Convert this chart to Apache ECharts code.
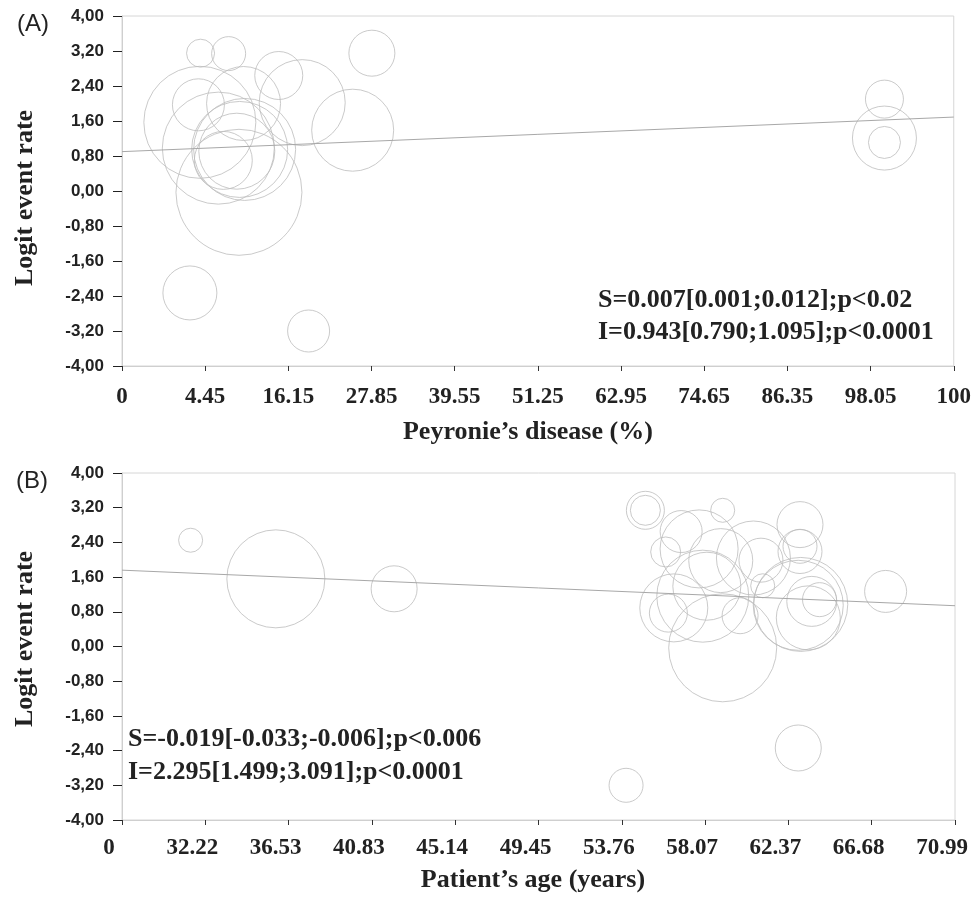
<!DOCTYPE html>
<html>
<head>
<meta charset="utf-8">
<script src="https://cdn.jsdelivr.net/npm/echarts@6/dist/echarts.min.js"></script>
<style>
  html, body { margin: 0; padding: 0; background: #fff; }
  #chart { width: 974px; height: 911px; }
</style>
</head>
<body>
<div id="chart"></div>
<script>
// tick labels as printed under each x axis
var ticksA = ['0', '4.45', '16.15', '27.85', '39.55', '51.25', '62.95', '74.65', '86.35', '98.05', '100'];
var ticksB = ['0', '32.22', '36.53', '40.83', '45.14', '49.45', '53.76', '58.07', '62.37', '66.68', '70.99'];

// (A) studies: [Peyronie's disease %, logit event rate, weight]
var studiesA = [
  [3.8, 3.15, 14], [7.75, 3.14, 17], [3.7, 1.57, 56], [3.5, 1.97, 26],
  [9.85, 2.0, 37], [14.8, 2.64, 24], [18.1, 2.02, 43], [27.9, 3.15, 23],
  [25.2, 1.39, 41], [6.3, 0.98, 56], [10.0, 0.95, 51], [8.9, 0.91, 38],
  [7.0, 0.70, 29], [9.3, 0.95, 48], [9.2, -0.03, 63], [2.3, -2.33, 27],
  [19.0, -3.2, 21], [100, 2.1, 19], [100, 1.21, 32], [100, 1.11, 16]
];
// regression line ends
var lineA = [[-7.25, 0.90], [109.75, 1.69]];

// (B) studies: [patient's age, logit event rate, weight]
var studiesB = [
  [31.46, 2.45, 12], [35.87, 1.56, 49], [41.99, 1.33, 23], [54.99, 3.14, 19],
  [54.99, 3.14, 15], [58.99, 3.14, 12], [62.99, 2.81, 23], [56.84, 2.65, 21],
  [56.04, 2.18, 15], [62.99, 2.31, 17], [62.99, 2.19, 22], [57.77, 2.25, 39],
  [58.89, 1.98, 32], [60.58, 2.04, 37], [60.97, 1.99, 22], [61.06, 1.40, 12],
  [56.46, 0.89, 34], [56.18, 0.77, 19], [57.96, 1.16, 46], [58.17, 1.39, 34],
  [59.89, 0.71, 18], [58.99, -0.03, 54], [63.03, 0.97, 47], [62.9, 0.95, 45],
  [63.6, 1.04, 25], [64.0, 1.08, 17], [63.42, 0.66, 32], [67.42, 1.27, 21],
  [62.9, -2.34, 23], [53.99, -3.2, 17]
];
var lineB = [[27.91, 1.76], [71.01, 0.94]];

var statsA = 'S=0.007[0.001;0.012];p<0.02\nI=0.943[0.790;1.095];p<0.0001';
var statsB = 'S=-0.019[-0.033;-0.006];p<0.006\nI=2.295[1.499;3.091];p<0.0001';

// the printed axes are evenly spaced ticks: map real values onto tick steps
function posA(v) { return (v + 7.25) / 11.7; }
function posB(v) { return (v - 27.91) / 4.31; }
function toAxis(arr, f) {
  return arr.map(function (d) { return [f(d[0]), d[1]].concat(d.slice(2)); });
}

var serif = 'Liberation Serif';
var sans = 'Liberation Sans';

function xAxisOf(idx, ticks, name, gap, namePad, labelPad, labelMargin) {
  return {
    gridIndex: idx, type: 'value', min: 0, max: 10, interval: 1,
    name: name, nameLocation: 'middle', nameGap: gap,
    nameTextStyle: { fontFamily: serif, fontWeight: 'bold', fontSize: 26, color: '#222', padding: namePad },
    axisLine: { show: true, onZero: false, lineStyle: { color: '#cfcfcf', width: 1 } },
    axisTick: { show: true, length: 5, lineStyle: { color: '#333' } },
    splitLine: { show: false },
    axisLabel: {
      margin: labelMargin,
      formatter: function (v) { return '{t|' + ticks[Math.round(v)] + '}'; },
      rich: { t: { fontFamily: serif, fontWeight: 'bold', fontSize: 23, color: '#222', padding: labelPad } }
    }
  };
}
function yAxisOf(idx, namePad) {
  return {
    gridIndex: idx, type: 'value', min: -4, max: 4, interval: 0.8,
    name: 'Logit event rate', nameLocation: 'middle', nameGap: 84, nameRotate: 90,
    nameTextStyle: { fontFamily: serif, fontWeight: 'bold', fontSize: 26, color: '#222', padding: namePad },
    axisLine: { show: true, onZero: false, lineStyle: { color: '#cfcfcf', width: 1 } },
    axisTick: { show: true, length: 9, lineStyle: { color: '#222' } },
    splitLine: { show: false },
    axisLabel: {
      margin: 18, fontFamily: sans, fontWeight: 'bold', fontSize: 17, color: '#222',
      formatter: function (v) { return v.toFixed(2).replace('.', ','); }
    }
  };
}

var bubbleStyle = { color: 'rgba(0,0,0,0)', borderColor: '#bdbdbd', borderWidth: 1 };

var myChart = echarts.init(document.getElementById('chart'));
var option = {
  backgroundColor: '#fff',
  animation: false,
  grid: [
    { left: 122, top: 16, width: 837, height: 350, show: true, borderColor: '#d6d6d6', borderWidth: 1 },
    { left: 122, top: 473, width: 833, height: 347, show: true, borderColor: '#d6d6d6', borderWidth: 1 }
  ],
  xAxis: [
    xAxisOf(0, ticksA, 'Peyronie\u2019s disease (%)', 53, [0, 20, 0, 0], [0, 0, 0, 0], 20),
    xAxisOf(1, ticksB, 'Patient\u2019s age (years)', 47, [0, 11, 0, 0], [0, 26, 0, 0], 17)
  ],
  yAxis: [yAxisOf(0, [0, 14, 0, 0]), yAxisOf(1, [0, 0, 0, 15])],
  series: [
    {
      type: 'scatter', xAxisIndex: 0, yAxisIndex: 0,
      data: toAxis(studiesA, posA),
      symbolSize: function (d) { return d[2] * 2; },
      itemStyle: bubbleStyle, emphasis: { disabled: true }
    },
    {
      type: 'line', xAxisIndex: 0, yAxisIndex: 0, data: toAxis(lineA, posA),
      showSymbol: false, lineStyle: { color: '#a8a8a8', width: 1 }, z: 3
    },
    {
      type: 'scatter', xAxisIndex: 1, yAxisIndex: 1,
      data: toAxis(studiesB, posB),
      symbolSize: function (d) { return d[2] * 2; },
      itemStyle: bubbleStyle, emphasis: { disabled: true }
    },
    {
      type: 'line', xAxisIndex: 1, yAxisIndex: 1, data: toAxis(lineB, posB),
      showSymbol: false, lineStyle: { color: '#a8a8a8', width: 1 }, z: 3
    }
  ],
  graphic: [
    { type: 'text', left: 17, top: 12, style: { text: '(A)', fontFamily: sans, fontSize: 24, fill: '#222' } },
    { type: 'text', left: 16, top: 469, style: { text: '(B)', fontFamily: sans, fontSize: 24, fill: '#222' } },
    { type: 'text', left: 598, top: 284, style: { text: statsA, fontFamily: serif, fontWeight: 'bold', fontSize: 26, lineHeight: 32, fill: '#222' } },
    { type: 'text', left: 128, top: 723, style: { text: statsB, fontFamily: serif, fontWeight: 'bold', fontSize: 26, lineHeight: 33, fill: '#222' } }
  ]
};
myChart.setOption(option);
</script>
</body>
</html>
